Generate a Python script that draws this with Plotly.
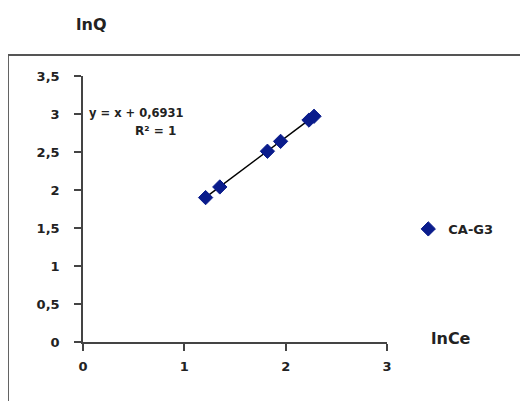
import plotly.graph_objects as go

# Data
lnCe = [1.21, 1.35, 1.82, 1.95, 2.23, 2.28]
lnQ = [1.90, 2.04, 2.51, 2.64, 2.92, 2.97]
series_name = "CA-G3"
trend_x = [min(lnCe), max(lnCe)]
slope, intercept = 1.0, 0.6931
trend_y = [slope * v + intercept for v in trend_x]
x_ticks = [0, 1, 2, 3]
y_ticks = [0, 0.5, 1, 1.5, 2, 2.5, 3, 3.5]
y_tick_text = ["0", "0,5", "1", "1,5", "2", "2,5", "3", "3,5"]

FONT = "DejaVu Sans"
NAVY = "#0A1C8C"
TXT = "#222222"

fig = go.Figure()
fig.add_trace(go.Scatter(
    x=trend_x, y=trend_y, mode="lines",
    line=dict(color="black", width=1.5), showlegend=False, hoverinfo="skip"))
fig.add_trace(go.Scatter(
    x=lnCe, y=lnQ, mode="markers", name=series_name,
    marker=dict(symbol="diamond", size=11, color=NAVY,
                line=dict(color=NAVY, width=1))))

axis_common = dict(
    showline=True, linecolor="#444444", linewidth=1.5,
    ticks="outside", tickcolor="#444444", tickwidth=1.5, ticklen=7,
    showgrid=False, zeroline=False,
    tickfont=dict(family=FONT, size=13, color=TXT, weight="bold"),
)

fig.update_layout(
    width=520, height=393,
    margin=dict(l=75, r=141, t=68, b=59),
    paper_bgcolor="white", plot_bgcolor="white",
    font=dict(family=FONT, size=11, color=TXT),
    xaxis=dict(range=[0, 3], tickvals=x_ticks, ticktext=[str(v) for v in x_ticks],
               ticklabelstandoff=5, **axis_common),
    yaxis=dict(range=[0, 3.5], tickvals=y_ticks, ticktext=y_tick_text,
               ticklabelstandoff=12, **axis_common),
    showlegend=True,
    legend=dict(x=1.07, y=0.425, xanchor="left", yanchor="middle",
                font=dict(family=FONT, size=13, color=TXT, weight="bold"),
                bgcolor="rgba(0,0,0,0)", itemwidth=30, tracegroupgap=0),
    shapes=[dict(type="rect", xref="paper", yref="paper",
                 x0=-0.247, x1=1.6, y0=-0.4, y1=1.079,
                 line=dict(color="#555555", width=2), layer="below")],
    annotations=[
        dict(text="lnQ", xref="paper", yref="paper", x=-0.03, y=1.195,
             xanchor="left", yanchor="middle", showarrow=False,
             font=dict(family=FONT, size=16, color=TXT, weight="bold")),
        dict(text="lnCe", xref="paper", yref="paper", x=1.138, y=0.013,
             xanchor="left", yanchor="middle", showarrow=False,
             font=dict(family=FONT, size=16, color=TXT, weight="bold")),
        dict(text="y = x + 0,6931", xref="paper", yref="paper", x=0.012, y=0.861,
             xanchor="left", yanchor="middle", showarrow=False,
             font=dict(family=FONT, size=11.5, color=TXT, weight="bold")),
        dict(text="R² = 1", xref="paper", yref="paper", x=0.165, y=0.793,
             xanchor="left", yanchor="middle", showarrow=False,
             font=dict(family=FONT, size=12, color=TXT, weight="bold")),
    ],
)

fig.write_html("out.html")
